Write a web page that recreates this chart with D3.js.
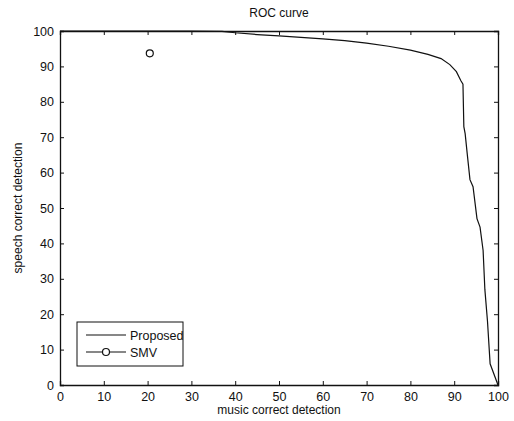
<!DOCTYPE html>
<html>
<head>
<meta charset="utf-8">
<script src="https://cdn.jsdelivr.net/npm/d3@7"></script>
<style>
  body { margin: 0; background: #fff; }
  svg text { font-family: "Liberation Sans", Arial, sans-serif; fill: #111; }
</style>
</head>
<body>
<svg id="chart" width="514" height="421"></svg>
<script>
// data
var musicProposed = [0, 30, 37, 40, 45, 50, 55, 60, 65, 70, 75, 80, 84, 87, 89, 90.5, 91.5, 92, 92.2, 92.5, 93, 93.6, 94.3, 95.2, 95.9, 96.6, 97, 97.6, 98.2, 100];
var speechProposed = [100, 100, 99.9, 99.5, 99, 98.6, 98.2, 97.8, 97.3, 96.6, 95.7, 94.6, 93.4, 92.2, 90.5, 88.5, 86, 85, 73, 71, 65, 58, 56, 47, 44.6, 38, 27, 18, 6, 0];
var smvPoint = [20.5, 93.7];
var xTicks = [0, 10, 20, 30, 40, 50, 60, 70, 80, 90, 100];
var yTicks = [0, 10, 20, 30, 40, 50, 60, 70, 80, 90, 100];
var legendNames = ["Proposed", "SMV"];

var margin = {left: 60, right: 16, top: 31, bottom: 36};
var width = 514, height = 421;

var svg = d3.select('#chart');
var x = d3.scaleLinear().domain([0, 100]).range([margin.left, width - margin.right]);
var y = d3.scaleLinear().domain([0, 100]).range([height - margin.bottom, margin.top]);

// axes with inward ticks on all four sides
function drawAxes() {
    var bottom = svg.append('g')
        .attr('transform', 'translate(0,' + y(0) + ')')
        .call(d3.axisBottom(x).tickValues(xTicks).tickSize(-4).tickPadding(7).tickFormat(d3.format('d')));
    var left = svg.append('g')
        .attr('transform', 'translate(' + x(0) + ',0)')
        .call(d3.axisLeft(y).tickValues(yTicks).tickSize(-4).tickPadding(6).tickFormat(d3.format('d')));
    var top = svg.append('g')
        .attr('transform', 'translate(0,' + y(100) + ')')
        .call(d3.axisTop(x).tickValues(xTicks).tickSize(-4).tickFormat(''));
    var right = svg.append('g')
        .attr('transform', 'translate(' + x(100) + ',0)')
        .call(d3.axisRight(y).tickValues(yTicks).tickSize(-4).tickFormat(''));

    [bottom, left, top, right].forEach(function(g) {
        g.select('.domain').attr('stroke', '#111').attr('stroke-width', 1.3);
        g.selectAll('.tick line').attr('stroke', '#111');
        g.selectAll('text').attr('font-size', 12.5).attr('fill', '#111')
            .attr('font-family', '"Liberation Sans", Arial, sans-serif');
    });
}

function drawCurve() {
    var pts = musicProposed.map(function(m, i) { return [m, speechProposed[i]]; });
    var line = d3.line().x(function(d) { return x(d[0]); }).y(function(d) { return y(d[1]); });
    svg.append('path')
        .datum(pts)
        .attr('d', line)
        .attr('fill', 'none')
        .attr('stroke', '#111')
        .attr('stroke-width', 1.2);

    svg.append('circle')
        .attr('cx', x(smvPoint[0]))
        .attr('cy', y(smvPoint[1]))
        .attr('r', 3.5)
        .attr('fill', 'none')
        .attr('stroke', '#111')
        .attr('stroke-width', 1.2);
}

function drawLabels() {
    svg.append('text')
        .attr('x', (x(0) + x(100)) / 2).attr('y', 17)
        .attr('text-anchor', 'middle').attr('font-size', 12)
        .text('ROC curve');
    svg.append('text')
        .attr('x', (x(0) + x(100)) / 2).attr('y', 414)
        .attr('text-anchor', 'middle').attr('font-size', 12)
        .text('music correct detection');
    svg.append('text')
        .attr('transform', 'translate(22,' + (y(0) + y(100)) / 2 + ') rotate(-90)')
        .attr('text-anchor', 'middle').attr('font-size', 12)
        .text('speech correct detection');
}

function drawLegend() {
    var g = svg.append('g').attr('transform', 'translate(77,322)');
    g.append('rect')
        .attr('width', 106).attr('height', 44)
        .attr('fill', '#fff').attr('stroke', '#111').attr('stroke-width', 1);
    var rows = g.selectAll('.row').data(legendNames).enter().append('g')
        .attr('transform', function(d, i) { return 'translate(0,' + (13 + i * 17) + ')'; });
    rows.append('line')
        .attr('x1', 9).attr('x2', 49).attr('y1', 0).attr('y2', 0)
        .attr('stroke', '#111').attr('stroke-width', 1.1);
    rows.filter(function(d, i) { return i === 1; }).append('circle')
        .attr('cx', 29).attr('cy', 0).attr('r', 3.5)
        .attr('fill', '#fff').attr('stroke', '#111').attr('stroke-width', 1.2);
    rows.append('text')
        .attr('x', 53).attr('y', 4.5).attr('font-size', 12.5)
        .text(function(d) { return d; });
}

drawAxes();
drawCurve();
drawLegend();
drawLabels();
</script>
</body>
</html>
